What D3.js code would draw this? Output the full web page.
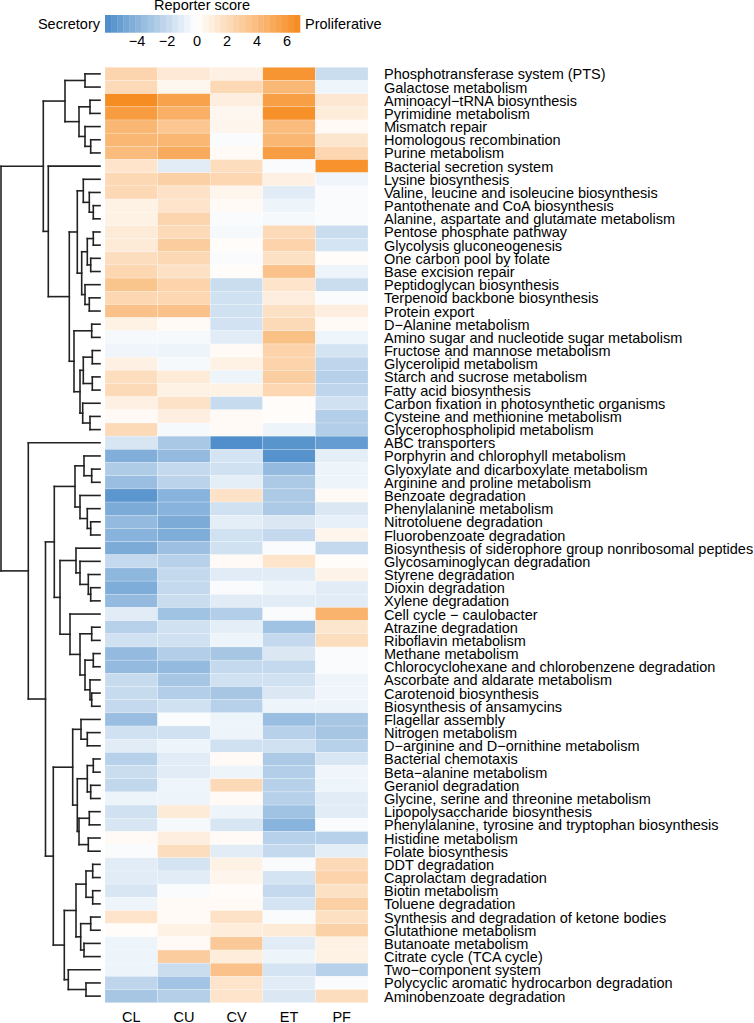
<!DOCTYPE html>
<html>
<head>
<meta charset="utf-8">
<script src="https://cdn.jsdelivr.net/npm/d3@7"></script>
<style>
  body { margin: 0; background: #fff; }
  text { font-family: "Liberation Sans", Arial, sans-serif; fill: #000; }
</style>
</head>
<body>
<div id="graph"></div>
<script>

/// Data

var pathways = [
  "Phosphotransferase system (PTS)", "Galactose metabolism", "Aminoacyl−tRNA biosynthesis",
  "Pyrimidine metabolism", "Mismatch repair", "Homologous recombination", "Purine metabolism",
  "Bacterial secretion system", "Lysine biosynthesis", "Valine, leucine and isoleucine biosynthesis",
  "Pantothenate and CoA biosynthesis", "Alanine, aspartate and glutamate metabolism",
  "Pentose phosphate pathway", "Glycolysis gluconeogenesis", "One carbon pool by folate",
  "Base excision repair", "Peptidoglycan biosynthesis", "Terpenoid backbone biosynthesis",
  "Protein export", "D−Alanine metabolism", "Amino sugar and nucleotide sugar metabolism",
  "Fructose and mannose metabolism", "Glycerolipid metabolism", "Starch and sucrose metabolism",
  "Fatty acid biosynthesis", "Carbon fixation in photosynthetic organisms",
  "Cysteine and methionine metabolism", "Glycerophospholipid metabolism", "ABC transporters",
  "Porphyrin and chlorophyll metabolism", "Glyoxylate and dicarboxylate metabolism",
  "Arginine and proline metabolism", "Benzoate degradation", "Phenylalanine metabolism",
  "Nitrotoluene degradation", "Fluorobenzoate degradation",
  "Biosynthesis of siderophore group nonribosomal peptides", "Glycosaminoglycan degradation",
  "Styrene degradation", "Dioxin degradation", "Xylene degradation", "Cell cycle − caulobacter",
  "Atrazine degradation", "Riboflavin metabolism", "Methane metabolism",
  "Chlorocyclohexane and chlorobenzene degradation", "Ascorbate and aldarate metabolism",
  "Carotenoid biosynthesis", "Biosynthesis of ansamycins", "Flagellar assembly",
  "Nitrogen metabolism", "D−arginine and D−ornithine metabolism", "Bacterial chemotaxis",
  "Beta−alanine metabolism", "Geraniol degradation", "Glycine, serine and threonine metabolism",
  "Lipopolysaccharide biosynthesis", "Phenylalanine, tyrosine and tryptophan biosynthesis",
  "Histidine metabolism", "Folate biosynthesis", "DDT degradation", "Caprolactam degradation",
  "Biotin metabolism", "Toluene degradation", "Synthesis and degradation of ketone bodies",
  "Glutathione metabolism", "Butanoate metabolism", "Citrate cycle (TCA cycle)",
  "Two−component system", "Polycyclic aromatic hydrocarbon degradation",
  "Aminobenzoate degradation"
];

var samples = ["CL", "CU", "CV", "ET", "PF"];

// reporter scores, one array per sample (same order as pathways)
var scoreCL = [2.5, 2.2, 6.8, 5.9, 4.3, 4.3, 4.0, 1.6, 2.3, 2.3,
  0.8, 0.8, 1.2, 1.2, 2.0, 2.4, 3.5, 2.4, 3.6, 0.8,
  -0.3, -0.5, 0.9, 2.0, 2.2, 0.9, 0.3, 2.2, -1.3, -4.2,
  -2.7, -3.4, -5.5, -4.4, -3.6, -4.0, -4.4, -2.0, -3.8, -4.3,
  -3.6, -1.0, -2.4, -1.6, -3.6, -3.6, -1.9, -1.9, -2.0, -3.4,
  -1.6, -1.0, -2.4, -1.8, -2.1, -0.6, -1.6, -1.3, 0.3, -0.2,
  -1.0, -1.0, -1.3, -0.6, 1.6, 0.2, -0.6, -0.6, -0.6, -2.2, -3.0];
var scoreCU = [1.3, 0.5, 5.5, 4.7, 3.4, 4.3, 5.0, -1.0, 2.8, 1.7,
  1.6, 2.5, 2.2, 3.0, 2.3, 1.8, 2.6, 2.4, 3.6, 0.3,
  -0.3, -0.6, -0.3, 1.2, 0.8, 1.7, 1.0, -0.3, -2.9, -3.6,
  -2.0, -2.3, -4.0, -4.0, -4.4, -4.3, -3.3, -2.4, -2.0, -2.0,
  -1.8, -3.2, -1.6, -1.6, -2.6, -3.6, -3.0, -2.6, -1.6, -0.2,
  -1.6, -0.6, -1.0, -1.0, -0.6, -0.6, 1.2, -0.3, 1.0, 2.0,
  -1.4, -1.0, -0.2, 0.3, 0.3, 0.8, 0.3, 3.0, -1.8, -3.1, -2.5];
var scoreCV = [0.9, 2.3, 1.0, 0.5, 0.6, -0.2, 0.3, 2.0, 2.4, 0.6,
  0.3, -0.2, -0.3, 0.2, -0.2, 0.2, -1.8, -1.6, -1.6, -1.5,
  -1.0, 0.3, 0.8, -0.6, 0.8, -1.9, 0.3, 0.3, -5.9, -1.4,
  -1.6, -0.9, 1.7, -1.6, -0.9, -1.6, -1.6, 0.3, -1.0, -0.2,
  -1.0, -2.6, -0.9, -0.6, -3.0, -2.0, -1.6, -3.0, -2.4, -0.6,
  -0.6, -1.6, 0.3, -0.6, 2.2, 0.3, -0.6, -1.3, 0.3, -1.0,
  0.8, 0.6, 0.2, 0.3, 1.7, 1.1, 3.2, 1.1, 3.6, 1.6, 1.6];
var scoreET = [6.3, 4.2, 5.7, 6.6, 4.0, 4.3, 5.8, -0.2, 0.9, -1.0,
  -0.6, -0.3, 2.2, 2.6, 1.8, 3.6, 1.6, 1.0, 1.8, 2.2,
  3.7, 2.6, 2.6, 2.9, 2.4, 0.2, 0.2, -0.6, -5.6, -5.7,
  -3.6, -2.8, -2.8, -2.8, -1.2, -2.0, -0.2, 1.6, -1.0, -0.6,
  -1.0, -0.2, -3.2, -2.0, -1.2, -2.0, -1.6, -1.2, -0.6, -3.4,
  -2.4, -1.6, -2.8, -2.6, -2.4, -2.4, -3.2, -4.0, -2.4, -2.0,
  -0.2, -1.4, -2.0, -1.4, -0.2, 1.2, -1.0, -0.6, -1.4, -1.0, -1.2];
var scorePF = [-1.8, -0.6, 1.4, 1.1, 0.3, 1.5, 2.4, 6.5, -0.5, -0.2,
  -0.2, -0.2, -1.8, -1.4, 0.2, -0.6, -1.8, -0.2, 1.0, 0.3,
  -0.6, -1.4, -2.2, -2.4, -2.2, -1.6, -2.6, -2.6, -5.2, -0.9,
  -0.6, -0.6, 0.3, -1.2, -0.8, 0.6, -2.0, 0.2, 0.7, -1.0,
  -1.0, 4.5, 1.5, 2.0, -0.2, -0.2, -0.5, -0.5, -0.6, -3.0,
  -3.0, -2.4, -1.3, -0.5, -0.6, -1.0, -1.0, -0.2, -2.4, -0.9,
  2.2, 2.6, 1.8, 2.8, 1.9, 2.7, 0.8, 0.8, -2.4, -0.2, 2.0];

var legendTicks = [-4, -2, 0, 2, 4, 6];

// row dendrogram: [height, left, right], leaves are row indices
var clusterTop = [56.7,
  [35, [15, 0, 1], [21, [10, 2, 3], [15, 4, [9.3, 5, 6]]]],
  [51.7, 7, [30.7,
    [22.7, [16.7, 8, [10.7, 9, [6.7, 10, 11]]],
      [18.3, [12.7, [6.7, 12, 13], [9.3, 14, 15]], [15, 16, [10.7, 17, 18]]]],
    [26, [8.3, 19, 20],
      [20, [16.7, [7.7, 21, 22], [7.7, 23, 24]], [17.3, 25, [10, 26, 27]]]]]]];
var clusterBottom = [71.7, 28, [54.5,
  [45.7,
    [25, [16, 29, [8.3, 30, 31]], [20, 32, [12.7, 33, [9.3, 34, 35]]]],
    [40, [24, 36, [20, 37, [11.7, 38, [9.3, 39, 40]]]],
      [30, 41, [20, [8.3, 42, 43], [15, [6.7, 44, 45], [10, 46, [8.3, 47, 48]]]]]]],
  [46.7,
    [27.3, [19, 49, [12.7, 50, 51]],
      [22.7, [12.7, [6.7, 52, 53], [9.3, 54, 55]], [21, [10.7, 56, 57], [11.7, 58, 59]]]],
    [35.7, [24, [14, [7.3, 60, 61], [7.3, 62, 63]], [19.3, [9.3, 64, 65], [16, 66, 67]]],
      [31.7, 68, [14, 69, 70]]]]]];
var rowTree = [99, clusterTop, clusterBottom];


/// Geometry

var W = 754, H = 1023;
var heat = { left: 105, right: 368, top: 67.3, bottom: 1002.7 };
var dendroLeft = 1, dendroRight = 100;
var fontSize = 14.5;

var svg = d3.select("#graph").append("svg")
  .attr("width", W)
  .attr("height", H);

var xScale = d3.scaleBand().domain(samples).range([heat.left, heat.right]);
var yScale = d3.scaleBand().domain(d3.range(pathways.length)).range([heat.top, heat.bottom]);
var hScale = d3.scaleLinear().domain([0, 99]).range([dendroRight, dendroLeft]);

var color = d3.scaleLinear()
  .domain([-6.1, 0, 6.9])
  .range(["#4a8bc9", "#ffffff", "#f68b1f"])
  .clamp(true);

var scores = { CL: scoreCL, CU: scoreCU, CV: scoreCV, ET: scoreET, PF: scorePF };
var cells = [];
samples.forEach(function (s) {
  scores[s].forEach(function (v, i) { cells.push({ s: s, i: i, v: v }); });
});


/// Heatmap cells

svg.append("g").selectAll("rect")
  .data(cells)
  .join("rect")
  .attr("x", function (d) { return xScale(d.s); })
  .attr("y", function (d) { return yScale(d.i); })
  .attr("width", xScale.bandwidth())
  .attr("height", yScale.bandwidth())
  .attr("fill", function (d) { return color(d.v); })
  .attr("stroke", "#ffffff")
  .attr("stroke-opacity", 0.45)
  .attr("stroke-width", 0.5);

// row labels
var rowAxis = svg.append("g")
  .attr("transform", "translate(" + heat.right + ",0)")
  .call(d3.axisRight(yScale).tickSize(0).tickPadding(16).tickFormat(function (i) { return pathways[i]; }));
rowAxis.select(".domain").remove();
rowAxis.selectAll("text").attr("font-size", fontSize).attr("dy", "0.38em");

// column labels
var colAxis = svg.append("g")
  .attr("transform", "translate(0," + heat.bottom + ")")
  .call(d3.axisBottom(xScale).tickSize(0).tickPadding(9));
colAxis.select(".domain").remove();
colAxis.selectAll("text").attr("font-size", fontSize);


/// Dendrogram

var root = d3.hierarchy(rowTree, function (d) { return Array.isArray(d) ? d.slice(1) : null; });
root.eachAfter(function (n) {
  if (n.children) {
    n.h = n.data[0];
    n.y = d3.mean(n.children, function (c) { return c.y; });
  } else {
    n.h = 0;
    n.y = yScale(n.data) + yScale.bandwidth() / 2;
  }
});

var links = [];
root.each(function (n) {
  if (!n.children) return;
  var x = hScale(n.h);
  links.push([[x, n.children[0].y], [x, n.children[1].y]]);
  n.children.forEach(function (c) {
    links.push([[x, c.y], [hScale(c.h), c.y]]);
  });
});

svg.append("g").selectAll("path")
  .data(links)
  .join("path")
  .attr("d", d3.line())
  .attr("fill", "none")
  .attr("stroke", "#222")
  .attr("stroke-width", 1.6)
  .attr("stroke-linecap", "square");


/// Colour key

var legendX = d3.scaleLinear().domain([-6.1, 6.9]).range([105, 300]);
var steps = d3.range(32).map(function (k) { return -6.1 + k * 13 / 32; });

var key = svg.append("g");
key.selectAll("rect")
  .data(steps)
  .join("rect")
  .attr("x", function (d) { return legendX(d); })
  .attr("y", 15)
  .attr("width", legendX(-6.1 + 13 / 32) - legendX(-6.1) + 0.3)
  .attr("height", 17.7)
  .attr("fill", function (d) { return color(d + 13 / 64); });

var keyAxis = key.append("g")
  .attr("transform", "translate(0,32.7)")
  .call(d3.axisBottom(legendX).tickValues(legendTicks).tickSize(0).tickPadding(3)
    .tickFormat(function (d) { return d < 0 ? "−" + Math.abs(d) : d; }));
keyAxis.select(".domain").remove();
keyAxis.selectAll("text").attr("font-size", fontSize);

key.append("text")
  .attr("x", 202)
  .attr("y", 10)
  .attr("text-anchor", "middle")
  .attr("font-size", fontSize)
  .text("Reporter score");

key.append("text")
  .attr("x", 100)
  .attr("y", 29.3)
  .attr("text-anchor", "end")
  .attr("font-size", fontSize)
  .text("Secretory");

key.append("text")
  .attr("x", 305)
  .attr("y", 29.3)
  .attr("font-size", fontSize)
  .text("Proliferative");

</script>
</body>
</html>
